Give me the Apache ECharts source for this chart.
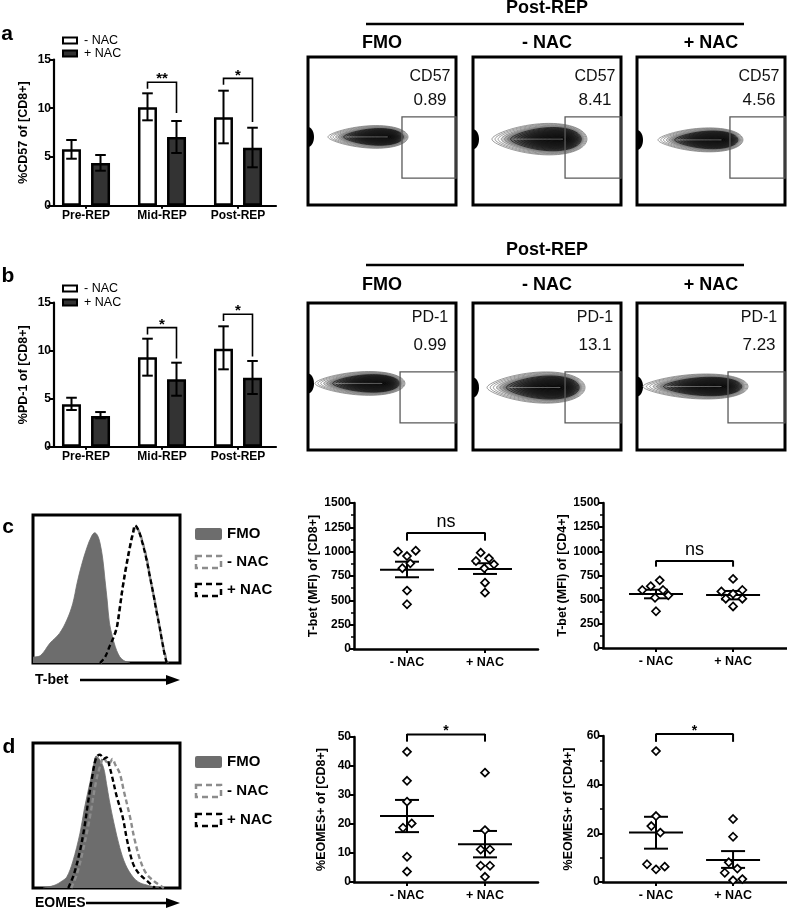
<!DOCTYPE html>
<html><head><meta charset="utf-8">
<script src="https://cdn.jsdelivr.net/npm/echarts@6/dist/echarts.min.js"></script>
<style>html,body{margin:0;padding:0;background:#fff}#c{width:787px;height:913px}</style>
</head><body><div id="c"></div>
<script>
// ================= DATA =================
const repCategories = ['Pre-REP', 'Mid-REP', 'Post-REP'];
const seriesNames = ['- NAC', '+ NAC'];

// panel a : %CD57 of [CD8+]
const cd57Minus = [5.78, 10.09, 9.07];
const cd57MinusLow = [4.82, 8.76, 6.4];
const cd57MinusHigh = [6.74, 11.53, 11.8];
const cd57Plus = [4.38, 7.05, 5.95];
const cd57PlusLow = [3.59, 5.41, 3.94];
const cd57PlusHigh = [5.2, 8.69, 8.0];
// brackets: [category, top, left leg end, right leg end]
const cd57Sig = [[1, 12.66, 12.0, 9.5], [2, 13.06, 12.4, 8.6]];
const cd57SigText = ['**', '*'];

// panel b : %PD-1 of [CD8+]
const pd1Minus = [4.42, 9.31, 10.21];
const pd1MinusLow = [3.82, 7.4, 8.06];
const pd1MinusHigh = [5.1, 11.25, 12.54];
const pd1Plus = [3.2, 7.02, 7.19];
const pd1PlusLow = [2.96, 5.31, 5.49];
const pd1PlusHigh = [3.61, 8.75, 8.93];
const pd1Sig = [[1, 12.4, 11.7, 9.2], [2, 13.8, 13.1, 9.4]];
const pd1SigText = ['*', '*'];

// flow plots
const flowHeader = 'Post-REP';
const flowTitles = ['FMO', '- NAC', '+ NAC'];
const cd57Marker = 'CD57';
const cd57Percent = ['0.89', '8.41', '4.56'];
const pd1Marker = 'PD-1';
const pd1Percent = ['0.99', '13.1', '7.23'];
// contour outline: [xLeft, xRight, yCenter, halfHeight] (plot units 0-100)
const cd57Contours = [[13.5, 67.6, 54, 9], [12.8, 77, 55.5, 12.5], [14.2, 71.6, 56, 9.5]];
const pd1Contours = [[4.7, 65.5, 54.7, 9.5], [9.5, 75.7, 57.5, 12.5], [4, 75, 56.8, 10]];
// gates: [x0, y0, x1, y1] (plot units 0-100)
const cd57Gates = [[63.5, 40.5, 100, 81.8], [62.2, 40.5, 100, 81.8], [62.8, 40.5, 100, 81.8]];
const pd1Gates = [[62.2, 46.9, 100, 81.6], [62.2, 46.9, 100, 81.6], [61.5, 46.9, 100, 81.6]];

// histograms (relative units 0-100)
const histLegend = ['FMO', '- NAC', '+ NAC'];
const tbetName = 'T-bet';
const tbetFmo = [[0,4],[5,5],[11.6,13.5],[18,20],[23,29],[27,40],[30,54],[33,66],[36.7,78],[40,86],[42,88],[44,86],[45.6,81],[47.5,70],[49,56],[50.5,42],[52,27],[54,18],[56,11],[58,6],[60,3],[63,1],[66,0]];
const tbetMinus = [[46,0],[49,4],[52,11],[55,18],[57,24],[59,36],[61,51],[63.5,65],[66,78],[68,87],[70,92],[72.5,88],[75,80],[77.5,70],[79.6,58],[82,46],[84,36],[86,25],[87.6,16],[89.5,7],[91.5,0]];
const tbetPlus = [[45.6,0],[49,4],[52,11],[55,18],[57,24],[59,37],[61,51],[63.5,66],[66,79],[68,88],[69.5,93],[72,89],[74.5,81],[77,71],[79.6,58],[82,46],[84,35],[86,25],[87.6,16],[89.5,6],[91,0]];
const eomesName = 'EOMES';
const eomesFmo = [[7,0],[15,2],[20,5],[23,7.6],[27,18],[32,38],[35,55],[39,74],[41,84],[43,91],[45,89],[48,83],[50,72],[52,60],[55,45],[59,28],[63,16],[68,7.6],[72,4],[77.5,2],[86,0]];
const eomesMinus = [[26,0],[30,10],[34,26],[38,45],[43,74],[46,85],[48,90],[50,87],[52,86],[54,89],[56,85],[59,79],[62,66],[66,49],[69,34],[73,19],[77,10],[82,5],[89,0]];
const eomesPlus = [[24,0],[28,10],[32,26],[35,42],[37.6,60],[40,75],[43,90],[45.6,92],[48,89],[50,90],[52,84],[54,76],[57,63],[61,49],[64,33],[68,17],[72,10],[77.5,5],[83,0]];

// scatter panels
const groupLabels = ['- NAC', '+ NAC'];
const tbetCd8Minus = [1000, 955, 1010, 830, 880, 600, 460];
const tbetCd8Plus = [990, 932, 904, 870, 829, 681, 579];
const tbetCd8Mean = [815, 822];
const tbetCd8SemLow = [737, 771];
const tbetCd8SemHigh = [897, 881];
const tbetCd8Sig = [1192, 1113];
const tbetCd4Minus = [700, 640, 600, 545, 600, 520, 380];
const tbetCd4Plus = [715, 585, 600, 560, 510, 510, 430];
const tbetCd4Mean = [559, 548];
const tbetCd4SemLow = [514, 503];
const tbetCd4SemHigh = [603, 590];
const tbetCd4Sig = [900, 841];
const eomesCd8Minus = [44.9, 34.9, 27.7, 18.7, 20.2, 8.7, 3.6];
const eomesCd8Plus = [37.7, 17.9, 11.2, 11.2, 5.6, 5.6, 1.8];
const eomesCd8Mean = [22.8, 13.0];
const eomesCd8SemLow = [17.2, 8.5];
const eomesCd8SemHigh = [28.3, 17.6];
const eomesCd8Sig = [50.9, 48.4];
const eomesCd4Minus = [53.8, 27.1, 23.0, 20.3, 7.3, 5.2, 6.3];
const eomesCd4Plus = [25.9, 18.6, 8.1, 5.5, 3.8, 0.7, 1.2];
const eomesCd4Mean = [20.3, 9.0];
const eomesCd4SemLow = [13.7, 5.8];
const eomesCd4SemHigh = [26.8, 12.7];
const eomesCd4Sig = [60.8, 57.6];

// ================= LAYOUT / STYLE =================
const FONT = '"Liberation Sans", Arial, sans-serif';
const BLACK = '#000';
// horizontal spread of points (px), as in the picture
const jitter = {
  tbetCd8: [[-9, 0, 8.7, -4.7, 3.3, 0, 0], [-4.3, 4, -9, 9, -0.7, 0, 0]],
  tbetCd4: [[3.7, -5.3, -13.7, 12.3, 7, -1, 0], [0, -11.7, 9.3, 0, -7.3, 9.3, 0]],
  eomesCd8: [[0, 0, 0, -4, 4.7, 0, 0], [0, 0, -4.3, 5, -4.3, 5, 0]],
  eomesCd4: [[0, 0, -4.7, 4.3, -9, 0, 8.7], [0, 0, -4.3, 4.3, -8.3, 0, 9.3]]
};
const BAR_OFF = 14.5;

const chart = echarts.init(document.getElementById('c'), null, {renderer: 'canvas', width: 787, height: 913});

const grids = [], xAxes = [], yAxes = [], series = [], graphics = [];
function addGrid(g) { grids.push(Object.assign({containLabel: false}, g)); return grids.length - 1; }

const tickLbl = {color: BLACK, fontWeight: 'bold', fontSize: 12, fontFamily: FONT};
const nameStyle = {color: BLACK, fontWeight: 'bold', fontSize: 12.5, fontFamily: FONT};
const axLine = {show: true, onZero: false, lineStyle: {color: BLACK, width: 2.2}};

// ---------- bar charts ----------
function errItem(offset) {
  return function (params, api) {
    const lo = api.coord([api.value(0), api.value(1)]);
    const hi = api.coord([api.value(0), api.value(2)]);
    const x = lo[0] + offset;
    const st = {stroke: BLACK, lineWidth: 2};
    return {type: 'group', children: [
      {type: 'line', shape: {x1: x, y1: lo[1], x2: x, y2: hi[1]}, style: st},
      {type: 'line', shape: {x1: x - 5.3, y1: lo[1], x2: x + 5.3, y2: lo[1]}, style: st},
      {type: 'line', shape: {x1: x - 5.3, y1: hi[1], x2: x + 5.3, y2: hi[1]}, style: st}
    ]};
  };
}
function barSigItem(texts) {
  return function (params, api) {
    const c = api.value(0);
    const top = api.coord([c, api.value(1)]);
    const l = api.coord([c, api.value(2)]);
    const r = api.coord([c, api.value(3)]);
    const xl = top[0] - BAR_OFF, xr = top[0] + BAR_OFF;
    const st = {stroke: BLACK, lineWidth: 1.6, fill: null};
    return {type: 'group', children: [
      {type: 'polyline', shape: {points: [[xl, l[1]], [xl, top[1]], [xr, top[1]], [xr, r[1]]]}, style: st},
      {type: 'text', style: {text: texts[params.dataIndex], x: top[0], y: top[1] - 3, textAlign: 'center', textVerticalAlign: 'middle', font: 'bold 15px ' + FONT, fill: BLACK}}
    ]};
  };
}
function addBarChart(cfg) {
  const gi = addGrid({left: 48, top: cfg.top, width: 228, height: cfg.height});
  xAxes.push({gridIndex: gi, type: 'category', data: repCategories,
    axisLine: axLine, axisTick: {show: true, alignWithLabel: true, length: 3, lineStyle: {color: BLACK, width: 2}},
    axisLabel: Object.assign({margin: 4}, tickLbl, {fontSize: 12})});
  yAxes.push({gridIndex: gi, type: 'value', min: 0, max: 15, interval: 5, offset: -6,
    name: cfg.yName, nameLocation: 'middle', nameRotate: 90, nameGap: 24, nameTextStyle: nameStyle,
    axisLine: axLine, axisTick: {show: true, length: 4, lineStyle: {color: BLACK, width: 2}},
    axisLabel: Object.assign({margin: 3}, tickLbl), splitLine: {show: false}});
  series.push({type: 'bar', name: seriesNames[0], xAxisIndex: gi, yAxisIndex: gi, data: cfg.minus,
    barWidth: 19, barGap: '53%', itemStyle: {color: '#fff', borderColor: BLACK, borderWidth: 2.5}});
  series.push({type: 'bar', name: seriesNames[1], xAxisIndex: gi, yAxisIndex: gi, data: cfg.plus,
    barWidth: 19, barGap: '53%', itemStyle: {color: '#333', borderColor: BLACK, borderWidth: 2.5}});
  series.push({type: 'custom', xAxisIndex: gi, yAxisIndex: gi, clip: false, z: 5,
    renderItem: errItem(-BAR_OFF), data: repCategories.map((c, i) => [i, cfg.minusLow[i], cfg.minusHigh[i]])});
  series.push({type: 'custom', xAxisIndex: gi, yAxisIndex: gi, clip: false, z: 5,
    renderItem: errItem(BAR_OFF), data: repCategories.map((c, i) => [i, cfg.plusLow[i], cfg.plusHigh[i]])});
  series.push({type: 'custom', xAxisIndex: gi, yAxisIndex: gi, clip: false, z: 5,
    renderItem: barSigItem(cfg.sigText), data: cfg.sig});
}
addBarChart({top: 59.5, height: 146.2, yName: '%CD57 of [CD8+]', minus: cd57Minus, plus: cd57Plus,
  minusLow: cd57MinusLow, minusHigh: cd57MinusHigh, plusLow: cd57PlusLow, plusHigh: cd57PlusHigh, sig: cd57Sig, sigText: cd57SigText});
addBarChart({top: 302.7, height: 144, yName: '%PD-1 of [CD8+]', minus: pd1Minus, plus: pd1Plus,
  minusLow: pd1MinusLow, minusHigh: pd1MinusHigh, plusLow: pd1PlusLow, plusHigh: pd1PlusHigh, sig: pd1Sig, sigText: pd1SigText});

// ---------- flow contour plots ----------
function contourItem(params, api) {
  const xl = api.value(0), xr = api.value(1), yc = api.value(2), hh = api.value(3);
  const children = [];
  const pb = api.coord([0, yc]);
  children.push({type: 'ellipse', shape: {cx: pb[0], cy: pb[1], rx: 6, ry: 10}, style: {fill: '#000'}});
  const core = xl + (xr - xl) * 0.64;
  const rings = 18;
  for (let i = 0; i < rings; i++) {
    const s = 1 - i / rings;
    const L = core - (core - xl) * Math.pow(s, 0.9);
    const R = core + (xr - core) * Math.pow(s, 0.45);
    const H = hh * Math.pow(s, 0.75);
    const pts = [];
    for (let k = 0; k <= 64; k++) {
      const t = k / 64 * Math.PI * 2;
      const c = Math.cos(t), sn = Math.sin(t);
      const x = (L + R) / 2 + (R - L) / 2 * c;
      const y = yc + H * sn * (0.42 + 0.58 * Math.sqrt((1 + c) / 2));
      pts.push(api.coord([x, y]));
    }
    children.push({type: 'polygon', shape: {points: pts},
      style: {fill: i >= 3 ? 'rgba(0,0,0,0.2)' : null, stroke: i < 6 ? '#7a7a7a' : '#1a1a1a', lineWidth: 0.75}});
  }
  // thin light streak along the density ridge
  const a = api.coord([xl + (core - xl) * 0.35, yc]), b = api.coord([core + (xr - core) * 0.3, yc]);
  children.push({type: 'line', shape: {x1: a[0], y1: a[1], x2: b[0], y2: b[1]}, style: {stroke: 'rgba(255,255,255,0.45)', lineWidth: 0.8}});
  return {type: 'group', children: children};
}
function gateItem(params, api) {
  const a = api.coord([api.value(0), api.value(1)]);
  const b = api.coord([api.value(2), api.value(3)]);
  return {type: 'rect', shape: {x: a[0], y: a[1], width: b[0] - a[0], height: b[1] - a[1]},
    style: {fill: null, stroke: '#5a5a5a', lineWidth: 1.3}};
}
const flowLefts = [308, 473, 637];
function addFlowRow(cfg) {
  flowLefts.forEach((left, i) => {
    const gi = addGrid({left: left, top: cfg.top, width: 148, height: cfg.height, show: true,
      borderColor: BLACK, borderWidth: 3, backgroundColor: '#fff'});
    xAxes.push({gridIndex: gi, type: 'value', min: 0, max: 100, show: false});
    yAxes.push({gridIndex: gi, type: 'value', min: 0, max: 100, inverse: true, show: false});
    series.push({type: 'custom', xAxisIndex: gi, yAxisIndex: gi, clip: true, renderItem: contourItem, data: [cfg.contours[i]]});
    series.push({type: 'custom', xAxisIndex: gi, yAxisIndex: gi, clip: false, renderItem: gateItem, data: [cfg.gates[i]]});
    const cx = left + 148 - 26;
    graphics.push({type: 'text', style: {text: cfg.marker, x: cx, y: cfg.top + cfg.markerDy, textAlign: 'center', textVerticalAlign: 'middle', font: '500 16px ' + FONT, fill: '#111'}});
    graphics.push({type: 'text', style: {text: cfg.percent[i], x: cx, y: cfg.top + cfg.percentDy, textAlign: 'center', textVerticalAlign: 'middle', font: '17px ' + FONT, fill: '#111'}});
    graphics.push({type: 'text', style: {text: flowTitles[i], x: left + 74, y: cfg.titleY, textAlign: 'center', textVerticalAlign: 'middle', font: 'bold 18px ' + FONT, fill: BLACK}});
  });
  graphics.push({type: 'text', style: {text: flowHeader, x: 547, y: cfg.headerY, textAlign: 'center', textVerticalAlign: 'middle', font: 'bold 18px ' + FONT, fill: BLACK}});
  graphics.push({type: 'line', shape: {x1: 366, y1: cfg.lineY, x2: 744, y2: cfg.lineY}, style: {stroke: BLACK, lineWidth: 2.5}});
}
addFlowRow({top: 57, height: 148, contours: cd57Contours, gates: cd57Gates, marker: cd57Marker, percent: cd57Percent,
  markerDy: 20, percentDy: 43, titleY: 43, headerY: 8, lineY: 24});
addFlowRow({top: 303, height: 147, contours: pd1Contours, gates: pd1Gates, marker: pd1Marker, percent: pd1Percent,
  markerDy: 15, percentDy: 42, titleY: 285, headerY: 250, lineY: 265});

// ---------- histograms ----------
function addHist(cfg) {
  const gi = addGrid({left: 33, top: cfg.top, width: 147, height: cfg.height, show: true, borderColor: BLACK, borderWidth: 3});
  xAxes.push({gridIndex: gi, type: 'value', min: 0, max: 100, show: false});
  yAxes.push({gridIndex: gi, type: 'value', min: 0, max: 100, show: false});
  series.push({type: 'line', xAxisIndex: gi, yAxisIndex: gi, data: cfg.fmo, smooth: 0.35, symbol: 'none',
    lineStyle: {width: 0.8, color: '#6d6d6d'}, areaStyle: {color: '#6d6d6d', opacity: 1}});
  series.push({type: 'line', xAxisIndex: gi, yAxisIndex: gi, data: cfg.minus, smooth: 0.35, symbol: 'none',
    lineStyle: {width: 2.4, color: '#8c8c8c', type: [5, 3]}});
  series.push({type: 'line', xAxisIndex: gi, yAxisIndex: gi, data: cfg.plus, smooth: 0.35, symbol: 'none',
    lineStyle: {width: 2.4, color: '#000', type: [5, 3]}});
  // legend
  const ly = cfg.legendY;
  graphics.push({type: 'rect', shape: {x: 195, y: ly[0] - 6, width: 27, height: 12, r: 2}, style: {fill: '#6d6d6d'}});
  graphics.push({type: 'rect', shape: {x: 196, y: ly[1] - 6, width: 25, height: 12}, style: {fill: null, stroke: '#8c8c8c', lineWidth: 2.5, lineDash: [6, 4]}});
  graphics.push({type: 'rect', shape: {x: 196, y: ly[2] - 6, width: 25, height: 12}, style: {fill: null, stroke: '#000', lineWidth: 2.5, lineDash: [6, 4]}});
  histLegend.forEach((t, i) => graphics.push({type: 'text', style: {text: t, x: 227, y: ly[i], textVerticalAlign: 'middle', font: 'bold 15px ' + FONT, fill: BLACK}}));
  // axis name with arrow
  graphics.push({type: 'text', style: {text: cfg.name, x: 35, y: cfg.arrowY, textVerticalAlign: 'middle', font: 'bold 14px ' + FONT, fill: BLACK}});
  graphics.push({type: 'line', shape: {x1: cfg.arrowX0, y1: cfg.arrowY, x2: 168, y2: cfg.arrowY}, style: {stroke: BLACK, lineWidth: 2.5}});
  graphics.push({type: 'polygon', shape: {points: [[166, cfg.arrowY - 5], [180, cfg.arrowY], [166, cfg.arrowY + 5]]}, style: {fill: BLACK}});
}
addHist({top: 515, height: 148, fmo: tbetFmo, minus: tbetMinus, plus: tbetPlus, legendY: [534, 562, 590], name: tbetName, arrowY: 680, arrowX0: 80});
addHist({top: 743, height: 145, fmo: eomesFmo, minus: eomesMinus, plus: eomesPlus, legendY: [762, 791, 820], name: eomesName, arrowY: 903, arrowX0: 86});

// ---------- scatter plots ----------
function meanSemItem(params, api) {
  const x = api.value(0);
  const pm = api.coord([x, api.value(1)]), pl = api.coord([x, api.value(2)]), ph = api.coord([x, api.value(3)]);
  const st = {stroke: BLACK, lineWidth: 2};
  return {type: 'group', children: [
    {type: 'line', shape: {x1: pm[0] - 27, y1: pm[1], x2: pm[0] + 27, y2: pm[1]}, style: st},
    {type: 'line', shape: {x1: pl[0], y1: pl[1], x2: ph[0], y2: ph[1]}, style: st},
    {type: 'line', shape: {x1: pl[0] - 12, y1: pl[1], x2: pl[0] + 12, y2: pl[1]}, style: st},
    {type: 'line', shape: {x1: ph[0] - 12, y1: ph[1], x2: ph[0] + 12, y2: ph[1]}, style: st}
  ]};
}
function scatterSigItem(text) {
  return function (params, api) {
    const a = api.coord([1, api.value(0)]), b = api.coord([2, api.value(0)]);
    const la = api.coord([1, api.value(1)]);
    const st = {stroke: BLACK, lineWidth: 2, fill: null};
    const isStar = text === '*';
    return {type: 'group', children: [
      {type: 'line', shape: {x1: a[0], y1: a[1], x2: b[0], y2: b[1]}, style: st},
      {type: 'line', shape: {x1: a[0], y1: a[1] - 0.5, x2: a[0], y2: la[1]}, style: st},
      {type: 'line', shape: {x1: b[0], y1: b[1] - 0.5, x2: b[0], y2: la[1]}, style: st},
      {type: 'text', style: {text: text, x: (a[0] + b[0]) / 2, y: a[1] - (isStar ? 3 : 11), textAlign: 'center', textVerticalAlign: 'middle',
        font: (isStar ? 'bold 14px ' : '18px ') + FONT, fill: BLACK}}
    ]};
  };
}
function addScatter(cfg) {
  const gi = addGrid({left: cfg.left, top: cfg.top, width: 184, height: cfg.height});
  xAxes.push({gridIndex: gi, type: 'value', min: cfg.xmin, max: cfg.xmax,
    axisLine: {show: true, onZero: false, lineStyle: {color: BLACK, width: 2.5}},
    axisTick: {show: true, length: 4, customValues: [1, 2], lineStyle: {color: BLACK, width: 2}},
    axisLabel: Object.assign({margin: 7, customValues: [1, 2], formatter: v => groupLabels[Math.round(v) - 1]}, tickLbl, {fontSize: 12.5}),
    splitLine: {show: false}});
  yAxes.push({gridIndex: gi, type: 'value', min: 0, max: cfg.ymax, interval: cfg.interval,
    name: cfg.yName, nameLocation: 'middle', nameRotate: 90, nameGap: cfg.nameGap, nameTextStyle: nameStyle,
    axisLine: {show: true, onZero: false, lineStyle: {color: BLACK, width: 2.5}},
    axisTick: {show: true, length: 4, lineStyle: {color: BLACK, width: 2}},
    minorTick: cfg.minor ? {show: true, splitNumber: 2, length: 3, lineStyle: {color: BLACK, width: 1.5}} : {show: false},
    axisLabel: Object.assign({margin: 3, formatter: v => String(v)}, tickLbl), splitLine: {show: false}});
  series.push({type: 'custom', xAxisIndex: gi, yAxisIndex: gi, clip: false, renderItem: meanSemItem,
    data: [0, 1].map(g => [g + 1, cfg.mean[g], cfg.semLow[g], cfg.semHigh[g]])});
  [cfg.minus, cfg.plus].forEach((vals, g) => {
    series.push({type: 'scatter', xAxisIndex: gi, yAxisIndex: gi, symbol: 'diamond', symbolSize: 8, z: 4,
      itemStyle: {color: '#fff', borderColor: BLACK, borderWidth: 1.7, opacity: 1},
      data: vals.map((v, i) => ({value: [g + 1, v], symbolOffset: [cfg.jit[g][i], 0]}))});
  });
  series.push({type: 'custom', xAxisIndex: gi, yAxisIndex: gi, clip: false, renderItem: scatterSigItem(cfg.sigText), data: [cfg.sig]});
}
addScatter({left: 354, top: 503, height: 146, xmin: 0.32, xmax: 2.68, ymax: 1500, interval: 250, minor: true,
  yName: 'T-bet (MFI) of [CD8+]', nameGap: 34, minus: tbetCd8Minus, plus: tbetCd8Plus, mean: tbetCd8Mean,
  semLow: tbetCd8SemLow, semHigh: tbetCd8SemHigh, sig: tbetCd8Sig, sigText: 'ns', jit: jitter.tbetCd8});
addScatter({left: 603, top: 503, height: 145, xmin: 0.312, xmax: 2.70, ymax: 1500, interval: 250, minor: true,
  yName: 'T-bet (MFI) of [CD4+]', nameGap: 34, minus: tbetCd4Minus, plus: tbetCd4Plus, mean: tbetCd4Mean,
  semLow: tbetCd4SemLow, semHigh: tbetCd4SemHigh, sig: tbetCd4Sig, sigText: 'ns', jit: jitter.tbetCd4});
addScatter({left: 354, top: 737, height: 145, xmin: 0.32, xmax: 2.68, ymax: 50, interval: 10, minor: false,
  yName: '%EOMES+ of [CD8+]', nameGap: 26, minus: eomesCd8Minus, plus: eomesCd8Plus, mean: eomesCd8Mean,
  semLow: eomesCd8SemLow, semHigh: eomesCd8SemHigh, sig: eomesCd8Sig, sigText: '*', jit: jitter.eomesCd8});
addScatter({left: 603, top: 736, height: 146, xmin: 0.312, xmax: 2.70, ymax: 60, interval: 20, minor: true,
  yName: '%EOMES+ of [CD4+]', nameGap: 28, minus: eomesCd4Minus, plus: eomesCd4Plus, mean: eomesCd4Mean,
  semLow: eomesCd4SemLow, semHigh: eomesCd4SemHigh, sig: eomesCd4Sig, sigText: '*', jit: jitter.eomesCd4});

// ---------- panel letters ----------
[['a', 7, 34], ['b', 8, 276], ['c', 8, 527], ['d', 9, 747]].forEach(([t, x, y]) =>
  graphics.push({type: 'text', style: {text: t, x: x, y: y, textAlign: 'center', textVerticalAlign: 'middle', font: 'bold 21px ' + FONT, fill: BLACK}}));

const legendCommon = {data: seriesNames, orient: 'vertical', left: 62, icon: 'rect', itemWidth: 14, itemHeight: 6,
  itemGap: 0, selectedMode: false, textStyle: {fontSize: 12.5, fontFamily: FONT, color: BLACK, lineHeight: 13, padding: [0, 0, 0, 2]}, padding: 0};

chart.setOption({
  animation: false,
  backgroundColor: '#fff',
  textStyle: {fontFamily: FONT},
  legend: [Object.assign({top: 34}, legendCommon), Object.assign({top: 281.5}, legendCommon, {textStyle: Object.assign({}, legendCommon.textStyle, {lineHeight: 14})})],
  grid: grids,
  xAxis: xAxes,
  yAxis: yAxes,
  series: series,
  graphic: graphics
});
</script>
</body></html>
